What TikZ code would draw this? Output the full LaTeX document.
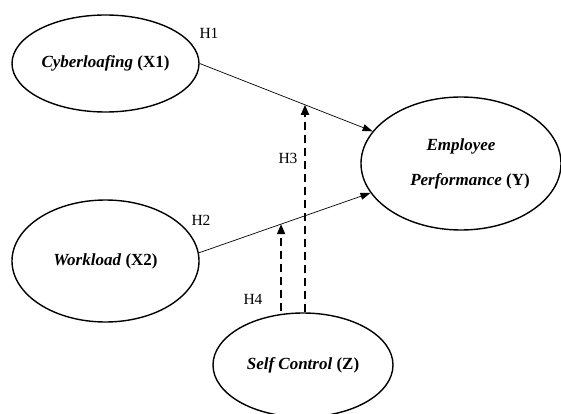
\documentclass[tikz,border=0pt]{standalone}
\usepackage{fontspec}
\setmainfont{Liberation Serif}
\usetikzlibrary{shapes.geometric,arrows.meta}
\begin{document}
\begin{tikzpicture}[x=1pt,y=-1pt,
  var/.style={draw,ellipse,line width=1.4pt,inner sep=0pt,font=\fontsize{17}{35}\selectfont,align=center},
  hyp/.style={font=\fontsize{15.5}{18}\selectfont,inner sep=0pt},
  path/.style={line width=0.7pt,-{Triangle[length=10pt,width=7pt]}},
  moder/.style={line width=1.8pt,dash pattern=on 8pt off 5pt,-{Triangle[length=10pt,width=8pt]}}]
\useasboundingbox (0,0) rectangle (561,414);
\node[var,minimum width=187pt,minimum height=97pt] (x1) at (105.5,63.5) {\textbf{\textit{Cyberloafing}} \textbf{(X1)}};
\node[var,minimum width=187pt,minimum height=122pt] (x2) at (105.5,261) {\textbf{\textit{Workload}} \textbf{(X2)}};
\node[var,minimum width=200pt,minimum height=133pt] (y) at (461,163.5) {\textbf{\textit{Employee}}\\\hspace*{18pt}\textbf{\textit{Performance}} \textbf{(Y)}};
\node[var,minimum width=180pt,minimum height=104pt] (z) at (303,365) {\textbf{\textit{Self Control}} \textbf{(Z)}};
\draw[path] (x1.east) -- (y.160) coordinate[pos=0.609] (h3tip);
\draw[path] (x2.5) -- (y.198) coordinate[pos=0.479] (h4tip);
\draw[moder] (h3tip |- z.north) -- (h3tip);
\draw[moder] ([yshift=1.5pt]h4tip |- z.north) -- (h4tip);
\node[hyp] (h1) at (209,33) {H1};
\node[hyp] (h2) at (201,220) {H2};
\node[hyp] (h3) at (288,158) {H3};
\node[hyp] (h4) at (253,299) {H4};
\end{tikzpicture}
\end{document}
